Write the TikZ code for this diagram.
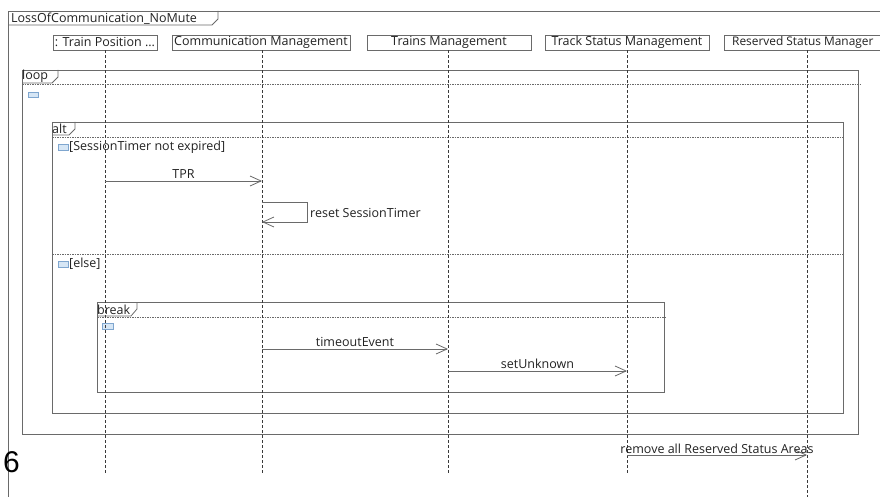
\documentclass[tikz,border=0pt]{standalone}
\usepackage{fontspec}
\setmainfont{Open Sans}
\newfontfamily\digitfont{Liberation Sans}
\usetikzlibrary{arrows.meta}
\definecolor{framec}{HTML}{6A6A6A}
\definecolor{lifec}{HTML}{3A3A3A}
\definecolor{txtc}{HTML}{222222}
\definecolor{iconfill}{HTML}{D6E6F5}
\definecolor{icondraw}{HTML}{7FA6CF}
\begin{document}
\begin{tikzpicture}[x=1pt,y=-1pt,
  every node/.style={text=txtc, font=\fontsize{12.5}{14}\selectfont, inner sep=1pt},
  frame/.style={draw=framec, line width=0.8pt},
  sep/.style={draw=framec, line width=0.6pt, dash pattern=on 1.5pt off 1pt},
  life/.style={draw=lifec, line width=0.7pt, dash pattern=on 3pt off 2pt},
  head/.style={draw=framec, line width=0.7pt, fill=white, minimum height=15pt, inner sep=0pt},
  msg/.style={draw=framec, line width=0.8pt, -{Straight Barb[length=11pt,width=10pt,line width=0.8pt]}},
  icon/.style={draw=icondraw, fill=iconfill, line width=0.5pt}
]
\clip (0,0) rectangle (880,497);
\fill[white] (0,0) rectangle (880,497);

% outer frame
\draw[frame] (8,11) rectangle (900,520);
\draw[frame] (8,25) -- (212,25) -- (218,19) -- (218,11);
\node[anchor=west] (title) at (10,18.5) {LossOfCommunication\_NoMute};

% lifeline heads
\node[head, minimum width=104pt] (tp) at (105,42.5) {: Train Position ...};
\node[head, minimum width=178pt] (cm) at (261,42.5) {Communication Management};
\node[head, minimum width=164pt] (trm) at (449,42.5) {Trains Management};
\node[head, minimum width=164pt] (tsm) at (627,42.5) {Track Status Management};
\node[head, minimum width=166pt] (rsm) at (807,42.5) {};
\node[anchor=west, inner sep=0pt, font=\fontsize{11.9}{14}\selectfont] (rsmt) at (732,42.5) {Reserved Status Manager};

% lifeline ends
\coordinate (tpE) at (105,473);
\coordinate (cmE) at (262,473);
\coordinate (trmE) at (448,473);
\coordinate (tsmE) at (627,473);
\coordinate (rsmE) at (807,497);

% loop frame
\draw[frame] (22,70) rectangle (858,434);
\draw[frame] (22,83) -- (52,83) -- (58,77) -- (58,70);
\node[anchor=west] (looplbl) at (21,76.5) {loop};
\draw[sep] (22,84) -- (860,84);
\draw[icon] (28,92) rectangle (38,97);

% alt frame
\draw[frame] (52,122) rectangle (843,413);
\draw[frame] (52,135) -- (69,135) -- (75,129) -- (75,122);
\node[anchor=west] (altlbl) at (51,128.5) {alt};
\draw[sep] (52,137) -- (843,137);
\draw[icon] (58,144) rectangle (68,150);
\node[anchor=west] (g1) at (68,147) {[SessionTimer not expired]};
\draw[sep] (52,254) -- (843,254);
\draw[icon] (58,261) rectangle (68,267);
\node[anchor=west] (g2) at (68,264) {[else]};

% break frame
\draw[frame] (97,302) rectangle (664,392);
\draw[frame] (97,316) -- (131,316) -- (137,309) -- (137,302);
\node[anchor=west] (brklbl) at (96,309.5) {break};
\draw[sep] (97,317) -- (666,317);
\draw[icon] (102,323) rectangle (113,329);

% lifelines
\draw[life] (tp) -- (tpE);
\draw[life] (cm.south -| cmE) -- (cmE);
\draw[life] (trm.south -| trmE) -- (trmE);
\draw[life] (tsm) -- (tsmE);
\draw[life] (rsm) -- (rsmE);

% messages
\coordinate (m1a) at (105,181);
\coordinate (m1b) at (262,181);
\draw[msg] (m1a) -- node[above=1pt] {TPR} (m1b);

\coordinate (s1) at (262,202);
\coordinate (s2) at (307,202);
\coordinate (s3) at (307,222);
\coordinate (s4) at (262,222);
\draw[msg] (s1) -- (s2) -- (s3) -- (s4);
\node[anchor=west] (rst) at (309,212.5) {reset SessionTimer};

\coordinate (m3a) at (262,349);
\coordinate (m3b) at (448,349);
\draw[msg] (m3a) -- node[above=1pt] {timeoutEvent} (m3b);

\coordinate (m4a) at (448,371);
\coordinate (m4b) at (627,371);
\draw[msg] (m4a) -- node[above=1pt] {setUnknown} (m4b);

\coordinate (m5a) at (627,455);
\coordinate (m5b) at (807,455);
\draw[msg] (m5a) -- node[above=0pt] {remove all Reserved Status Areas} (m5b);

% page number
\node[anchor=base west, inner sep=0pt, font=\digitfont\fontsize{30}{32}\selectfont, text=black] (six) at (3,472) {6};
\end{tikzpicture}
\end{document}
